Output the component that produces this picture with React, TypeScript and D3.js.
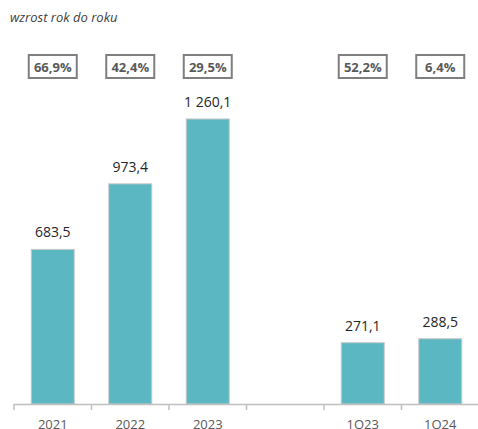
import React from "react";
import * as d3 from "d3";

const categories = ["2021", "2022", "2023", "", "1Q23", "1Q24"];
const values: (number | null)[] = [683.5, 973.4, 1260.1, null, 271.1, 288.5];
const valueLabels = ["683,5", "973,4", "1 260,1", "", "271,1", "288,5"];
const growthLabels = ["66,9%", "42,4%", "29,5%", "", "52,2%", "6,4%"];
const title = "wzrost rok do roku";

const W = 478;
const H = 429;
const baseY = 404;
const font = "'Open Sans', 'DejaVu Sans', sans-serif";

export default function App() {
  const x = d3
    .scaleBand<string>()
    .domain(categories.map((c, i) => String(i)))
    .range([14, 479])
    .paddingInner(0.445)
    .paddingOuter(0.2225);
  const y = d3.scaleLinear().domain([0, 1400]).range([baseY, baseY - 1400 * 0.2262]);
  const step = x.step();
  const bw = x.bandwidth();
  const x0 = 14;

  return (
    <svg
      width={W}
      height={H}
      style={{ position: "absolute", left: 0, top: 0, background: "#fff" }}
      fontFamily={font}
    >
      <text x={10} y={22} fontSize={13} fontStyle="italic" fill="#404040">
        {title}
      </text>
      {categories.map((c, i) => {
        const v = values[i];
        const bx = x(String(i))!;
        const cx = bx + bw / 2;
        return (
          <g key={i}>
            {v != null && (
              <>
                <rect
                  x={bx}
                  y={y(v)}
                  width={bw}
                  height={baseY - y(v)}
                  fill="#5BB7C1"
                  stroke="#c9c9c9"
                  strokeWidth={1}
                />
                <text
                  x={cx}
                  y={y(v) - 12}
                  textAnchor="middle"
                  fontSize={14}
                  fill="#262626"
                >
                  {valueLabels[i]}
                </text>
              </>
            )}
            {growthLabels[i] && (
              <>
                <rect
                  x={cx - 24}
                  y={55}
                  width={48}
                  height={23}
                  fill="#fff"
                  stroke="#7f7f7f"
                  strokeWidth={2}
                />
                <text
                  x={cx}
                  y={71.5}
                  textAnchor="middle"
                  fontSize={13}
                  fontWeight="bold"
                  fill="#595959"
                >
                  {growthLabels[i]}
                </text>
              </>
            )}
            <text
              x={cx}
              y={428.5}
              textAnchor="middle"
              fontSize={13}
              fill="#595959"
            >
              {c}
            </text>
          </g>
        );
      })}
      <line x1={x0} x2={W} y1={baseY + 0.5} y2={baseY + 0.5} stroke="#bfbfbf" strokeWidth={1.5} />
      {d3.range(categories.length + 1).map((i) => (
        <line
          key={i}
          x1={x0 + i * step}
          x2={x0 + i * step}
          y1={baseY}
          y2={baseY + 6}
          stroke="#bfbfbf"
          strokeWidth={1.5}
        />
      ))}
    </svg>
  );
}
